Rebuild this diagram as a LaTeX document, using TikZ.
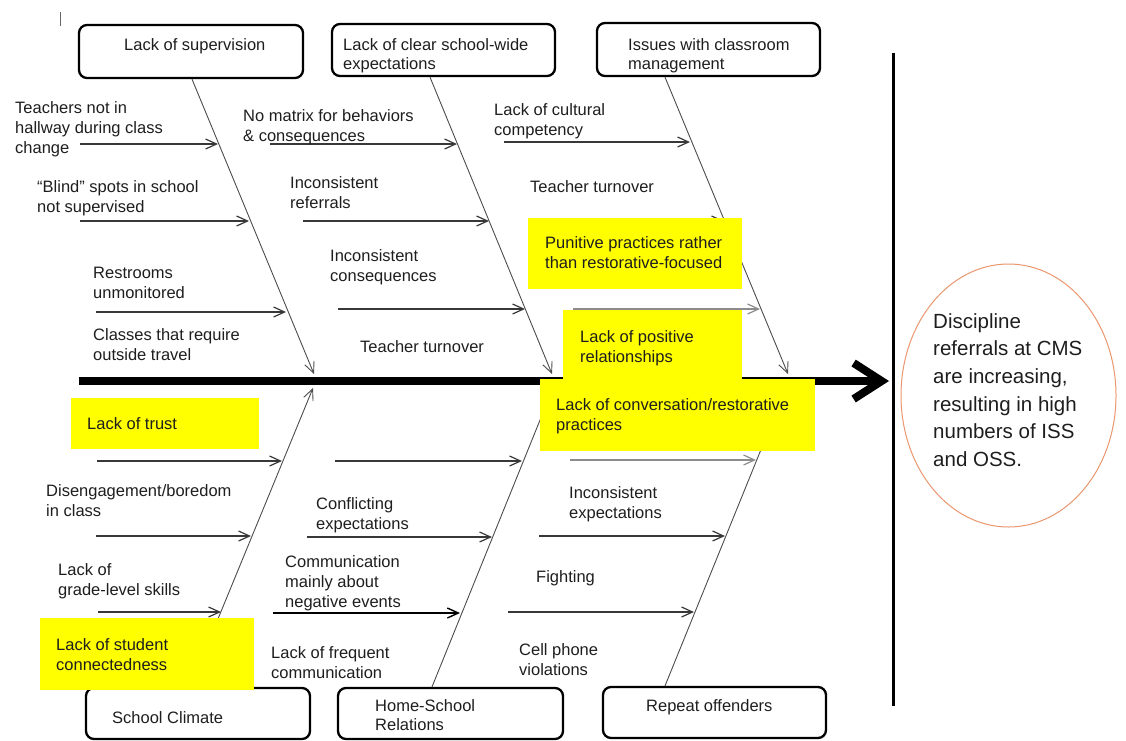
\documentclass[tikz,border=0pt]{standalone}
\usepackage{fontspec}
\setmainfont{Liberation Sans}
\usetikzlibrary{arrows.meta,shapes.geometric}
\definecolor{hlyellow}{RGB}{255,255,0}
\definecolor{ellcol}{RGB}{234,150,110}
\definecolor{txtcol}{RGB}{30,30,30}
\begin{document}
\begin{tikzpicture}[x=1pt,y=-1pt,
  hdr/.style={draw=black, line width=2.3pt, rounded corners=8pt, inner sep=0pt},
  hlbox/.style={fill=hlyellow, inner sep=0pt},
  lbl/.style={anchor=base west, align=left, inner sep=0pt, text=txtcol, font=\fontsize{16.5}{20}\selectfont},
  hdrlbl/.style={lbl, font=\fontsize{16.5}{19}\selectfont},
  goallbl/.style={anchor=base west, align=left, inner sep=0pt, text=txtcol, font=\fontsize{20.5}{27.7}\selectfont},
  bone/.style={draw=black!70, line width=0.9pt, -{Straight Barb[length=11pt,width=10pt]}},
  subarrow/.style={draw=black!78, line width=1.2pt, -{Straight Barb[length=11pt,width=10pt]}},
  lightarrow/.style={subarrow, draw=black!45},
]
\useasboundingbox (0,0) rectangle (1126,740);

% small tick
\draw[black!60, line width=1pt] (60,12) coordinate (tk1) -- (60,26) coordinate (tk2);

% category boxes
\node[hdr, minimum width=224pt, minimum height=53pt] (b1) at (191,51.5) {};
\node[hdr, minimum width=223pt, minimum height=52pt] (b2) at (443.5,50) {};
\node[hdr, minimum width=223pt, minimum height=53pt] (b3) at (708.5,49.5) {};
\node[hdr, minimum width=224pt, minimum height=51pt] (b4) at (198,713.5) {};
\node[hdr, minimum width=225pt, minimum height=51pt] (b5) at (450.5,713.5) {};
\node[hdr, minimum width=223pt, minimum height=51pt] (b6) at (714.5,712.5) {};

% spine
\coordinate (s0) at (79,381);
\coordinate (s1) at (889,381);
\draw[line width=8pt, -{Straight Barb[length=28pt,width=36pt]}] (s0) -- (s1);
\draw[line width=3pt] (893,53) coordinate (v0) -- (893,706) coordinate (v1);

% bones
\coordinate (e1) at (314,374);
\coordinate (e2) at (552,374);
\coordinate (e3) at (788,374);
\coordinate (e4) at (313,388);
\coordinate (e5) at (553,388);
\coordinate (e6) at (786,388);
\draw[bone] ([xshift=1pt]b1.south) -- (e1);
\draw[bone] ([xshift=-13.5pt]b2.south) -- (e2);
\draw[bone] ([xshift=-43.5pt]b3.south) -- (e3);
\draw[bone] ([xshift=-8pt]b4.north) -- (e4);
\draw[bone] ([xshift=-18.5pt]b5.north) -- (e5);
\draw[bone] ([xshift=-49.5pt]b6.north) -- (e6);

% cause arrows
\draw[subarrow] (80,144) coordinate (a1s) -- (218,144) coordinate (a1e);
\draw[subarrow] (80,221) coordinate (a2s) -- (249,221) coordinate (a2e);
\draw[subarrow] (96,312) coordinate (a3s) -- (286,312) coordinate (a3e);
\draw[subarrow] (270,144) coordinate (a4s) -- (457,144) coordinate (a4e);
\draw[subarrow] (303,221) coordinate (a5s) -- (489,221) coordinate (a5e);
\draw[subarrow] (338,309) coordinate (a6s) -- (525,309) coordinate (a6e);
\draw[subarrow] (504,142) coordinate (a7s) -- (690,142) coordinate (a7e);
\draw[subarrow] (545,221) coordinate (a8s) -- (724,221) coordinate (a8e);
\draw[lightarrow] (573,309) coordinate (a9s) -- (760,309) coordinate (a9e);
\draw[subarrow] (97,461) coordinate (a10s) -- (282,461) coordinate (a10e);
\draw[subarrow] (96,536) coordinate (a11s) -- (251,536) coordinate (a11e);
\draw[subarrow] (98,612) coordinate (a12s) -- (221,612) coordinate (a12e);
\draw[subarrow] (335,461) coordinate (a13s) -- (522,461) coordinate (a13e);
\draw[subarrow] (307,537) coordinate (a14s) -- (492,537) coordinate (a14e);
\draw[subarrow, draw=black, line width=1.4pt] (273,613) coordinate (a15s) -- (460,613) coordinate (a15e);
\draw[lightarrow] (570,460) coordinate (a16s) -- (756,460) coordinate (a16e);
\draw[subarrow] (539,536) coordinate (a17s) -- (725,536) coordinate (a17e);
\draw[subarrow] (508,612) coordinate (a18s) -- (694,612) coordinate (a18e);

% highlighted boxes
\node[hlbox, minimum width=188pt, minimum height=51pt] (hTrust) at (165,423.5) {};
\node[hlbox, minimum width=214pt, minimum height=71pt] (hPun) at (635,253.5) {};
\node[hlbox, minimum width=179pt, minimum height=69pt] (hPos) at (652.5,344.5) {};
\node[hlbox, minimum width=275pt, minimum height=72pt] (hConv) at (677.5,415) {};
\node[hlbox, minimum width=214pt, minimum height=72pt] (hConn) at (147,654) {};

% box labels (anchor = baseline of last line)
\node[hdrlbl] (t1) at (124,50) {Lack of supervision};
\node[hdrlbl] (t2) at (343,69) {Lack of clear school-wide\\expectations};
\node[hdrlbl] (t3) at (628,69) {Issues with classroom\\management};
\node[hdrlbl] (t4) at (112,723) {School Climate};
\node[hdrlbl] (t5) at (375,730) {Home-School\\Relations};
\node[hdrlbl] (t6) at (646,711) {Repeat offenders};

% cause labels (anchor = baseline of last line)
\node[lbl] (c1) at (15,153) {Teachers not in\\hallway during class\\change};
\node[lbl] (c2) at (37,212) {``Blind'' spots in school\\not supervised};
\node[lbl] (c3) at (93,298) {Restrooms\\unmonitored};
\node[lbl] (c4) at (93,360) {Classes that require\\outside travel};
\node[lbl] (c5) at (243,141) {No matrix for behaviors\\\& consequences};
\node[lbl] (c6) at (290,208) {Inconsistent\\referrals};
\node[lbl] (c7) at (330,281) {Inconsistent\\consequences};
\node[lbl] (c8) at (360,352) {Teacher turnover};
\node[lbl] (c9) at (494,135) {Lack of cultural\\competency};
\node[lbl] (c10) at (530,192) {Teacher turnover};
\node[lbl] (c11) at (545,268) {Punitive practices rather\\than restorative-focused};
\node[lbl] (c12) at (580,362) {Lack of positive\\relationships};
\node[lbl] (c13) at (556,430) {Lack of conversation/restorative\\practices};
\node[lbl] (c14) at (87,429) {Lack of trust};
\node[lbl] (c15) at (46,516) {Disengagement/boredom\\in class};
\node[lbl] (c16) at (58,595) {Lack of\\grade-level skills};
\node[lbl] (c17) at (56,670) {Lack of student\\connectedness};
\node[lbl] (c18) at (316,529) {Conflicting\\expectations};
\node[lbl] (c19) at (285,607) {Communication\\mainly about\\negative events};
\node[lbl] (c20) at (271,678) {Lack of frequent\\communication};
\node[lbl] (c21) at (569,518) {Inconsistent\\expectations};
\node[lbl] (c22) at (536,582) {Fighting};
\node[lbl] (c23) at (519,675) {Cell phone\\violations};

% effect
\node[ellipse, draw=ellcol, line width=1pt, minimum width=215pt, minimum height=263pt, inner sep=0pt] (goal) at (1008.5,395.5) {};
\node[goallbl] (goaltxt) at (933,466.5) {Discipline\\referrals at CMS\\are increasing,\\resulting in high\\numbers of ISS\\and OSS.};
\end{tikzpicture}
\end{document}
